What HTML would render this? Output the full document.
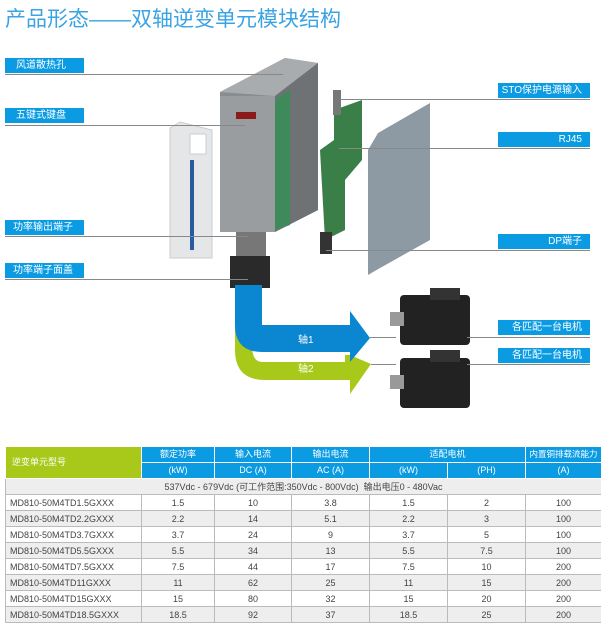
<!DOCTYPE html>
<html><head><meta charset="utf-8"><style>
body{margin:0;width:601px;height:633px;background:#fff;position:relative;overflow:hidden;font-family:"Liberation Sans","Noto Sans CJK SC",sans-serif}
.t{position:absolute;left:5px;top:3px;font-size:21px;color:#3aa3e3;letter-spacing:0px}
.lb{position:absolute;height:15px;background:#0a9be3;color:#fff;font-size:10px;line-height:15px;box-sizing:border-box}
.ln{position:absolute;height:1px;background:#888}
table{position:absolute;left:5px;top:446px;width:596px;border-collapse:collapse;table-layout:fixed;font-size:9px;color:#444}
td{border:1px solid #bbb;height:15px;padding:0;text-align:center;line-height:14px;white-space:nowrap;overflow:hidden}
td.m{text-align:left;padding-left:4px}
th{background:#0a9be3;color:#fff;font-weight:normal;font-size:9px;border:1px solid #fff;height:15px;padding:0;white-space:nowrap;overflow:hidden;line-height:15px}
tr.g td{background:#eee}
</style></head><body>
<div class="t">产品形态——双轴逆变单元模块结构</div>
<svg width="601" height="440" style="position:absolute;left:0;top:0">
<polygon points="170,128 180,122 212,130 212,258 170,258" fill="#e4e6e8" stroke="#ccc"/>
<rect x="190" y="160" width="4" height="90" fill="#2a5aa0"/>
<rect x="190" y="134" width="16" height="20" fill="#fff" stroke="#ccc"/>
<polygon points="220,92 285,58 318,63 318,210 275,232 220,232" fill="#8a8d90"/>
<polygon points="220,92 285,58 318,63 275,96" fill="#a9acaf"/>
<rect x="220" y="96" width="55" height="136" fill="#9a9da0"/>
<polygon points="275,96 318,63 318,210 275,232" fill="#6f7275"/>
<polygon points="275,100 290,90 290,225 275,230" fill="#3e8a5a"/>
<rect x="236" y="112" width="20" height="7" fill="#8b1a1a"/>
<rect x="236" y="232" width="30" height="28" fill="#777"/>
<rect x="230" y="256" width="40" height="32" fill="#2a2a2a"/>
<polygon points="334,110 362,100 362,160 345,180 345,230 325,240 320,150 334,140" fill="#3b7f48"/>
<rect x="333" y="90" width="8" height="25" fill="#777"/>
<rect x="320" y="232" width="12" height="22" fill="#333"/>
<polygon points="378,133 430,103 430,240 380,268 368,275 368,150" fill="#8e9aa3"/>
<path d="M235,285 L235,350 Q235,380 265,380 L350,380 L350,394 L371,364 L350,355 L345,355 L345,362 L262,362 Q252,362 252,345 Z" fill="#a8c91a"/>
<path d="M235,285 L262,285 L262,325 L350,325 L350,311 L370,338 L350,362 L350,352 L262,352 Q235,352 235,325 Z" fill="#0a87d0"/>
<text x="298" y="343" fill="#fff" font-size="10" font-family="Liberation Sans,Noto Sans CJK SC,sans-serif">轴1</text>
<text x="298" y="372" fill="#fff" font-size="10" font-family="Liberation Sans,Noto Sans CJK SC,sans-serif">轴2</text>
<rect x="400" y="295" width="70" height="50" rx="4" fill="#222"/>
<rect x="430" y="288" width="30" height="12" fill="#333"/>
<rect x="390" y="312" width="14" height="14" fill="#999"/>
<rect x="400" y="358" width="70" height="50" rx="4" fill="#222"/>
<rect x="430" y="350" width="30" height="12" fill="#333"/>
<rect x="390" y="375" width="14" height="14" fill="#999"/>
</svg>
<div class="lb" style="left:5px;top:58px;width:79px;padding-left:11px">风道散热孔</div><div class="ln" style="left:5px;top:74px;width:278px"></div>
<div class="lb" style="left:5px;top:108px;width:79px;padding-left:11px">五键式键盘</div><div class="ln" style="left:5px;top:125px;width:240px"></div>
<div class="lb" style="left:5px;top:220px;width:79px;padding-left:8px">功率输出端子</div><div class="ln" style="left:5px;top:236px;width:243px"></div>
<div class="lb" style="left:5px;top:263px;width:79px;padding-left:8px">功率端子面盖</div><div class="ln" style="left:5px;top:279px;width:243px"></div>
<div class="lb" style="left:498px;top:83px;width:92px;text-align:right;padding-right:8px">STO保护电源输入</div><div class="ln" style="left:340px;top:99px;width:250px"></div>
<div class="lb" style="left:498px;top:132px;width:92px;text-align:right;padding-right:8px">RJ45</div><div class="ln" style="left:339px;top:148px;width:251px"></div>
<div class="lb" style="left:498px;top:234px;width:92px;text-align:right;padding-right:8px">DP端子</div><div class="ln" style="left:326px;top:250px;width:264px"></div>
<div class="lb" style="left:498px;top:320px;width:92px;text-align:right;padding-right:8px">各匹配一台电机</div><div class="ln" style="left:467px;top:337px;width:123px"></div><div class="ln" style="left:370px;top:337px;width:26px"></div>
<div class="lb" style="left:498px;top:348px;width:92px;text-align:right;padding-right:8px">各匹配一台电机</div><div class="ln" style="left:467px;top:364px;width:123px"></div><div class="ln" style="left:371px;top:364px;width:25px"></div>
<table>
<colgroup><col style="width:136px"><col style="width:73px"><col style="width:77px"><col style="width:78px"><col style="width:78px"><col style="width:78px"><col style="width:76px"></colgroup>
<tr><th rowspan="2" style="background:#a8c91a;text-align:left;padding-left:6px">逆变单元型号</th><th>额定功率</th><th>输入电流</th><th>输出电流</th><th colspan="2">适配电机</th><th style="font-size:8.5px">内置铜排载流能力</th></tr>
<tr><th>(kW)</th><th>DC (A)</th><th>AC (A)</th><th>(kW)</th><th>(PH)</th><th>(A)</th></tr>
<tr class="g"><td colspan="7">537Vdc - 679Vdc (可工作范围:350Vdc - 800Vdc)&nbsp; 输出电压0 - 480Vac</td></tr>
<tr><td class="m">MD810-50M4TD1.5GXXX</td><td>1.5</td><td>10</td><td>3.8</td><td>1.5</td><td>2</td><td>100</td></tr>
<tr class="g"><td class="m">MD810-50M4TD2.2GXXX</td><td>2.2</td><td>14</td><td>5.1</td><td>2.2</td><td>3</td><td>100</td></tr>
<tr><td class="m">MD810-50M4TD3.7GXXX</td><td>3.7</td><td>24</td><td>9</td><td>3.7</td><td>5</td><td>100</td></tr>
<tr class="g"><td class="m">MD810-50M4TD5.5GXXX</td><td>5.5</td><td>34</td><td>13</td><td>5.5</td><td>7.5</td><td>100</td></tr>
<tr><td class="m">MD810-50M4TD7.5GXXX</td><td>7.5</td><td>44</td><td>17</td><td>7.5</td><td>10</td><td>200</td></tr>
<tr class="g"><td class="m">MD810-50M4TD11GXXX</td><td>11</td><td>62</td><td>25</td><td>11</td><td>15</td><td>200</td></tr>
<tr><td class="m">MD810-50M4TD15GXXX</td><td>15</td><td>80</td><td>32</td><td>15</td><td>20</td><td>200</td></tr>
<tr class="g"><td class="m">MD810-50M4TD18.5GXXX</td><td>18.5</td><td>92</td><td>37</td><td>18.5</td><td>25</td><td>200</td></tr>
</table>
</body></html>
